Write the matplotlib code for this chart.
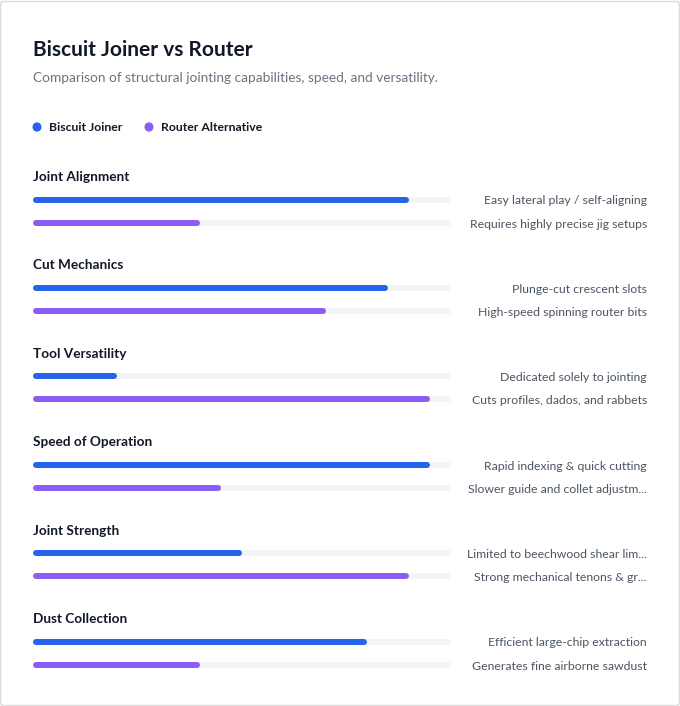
import matplotlib.pyplot as plt
from matplotlib.patches import FancyBboxPatch

plt.rcParams['font.family'] = ['Lato', 'DejaVu Sans']

title = "Biscuit Joiner vs Router"
subtitle = "Comparison of structural jointing capabilities, speed, and versatility."
series_names = ["Biscuit Joiner", "Router Alternative"]
series_colors = ["#2563eb", "#8b5cf6"]

categories = ["Joint Alignment", "Cut Mechanics", "Tool Versatility",
              "Speed of Operation", "Joint Strength", "Dust Collection"]
biscuit = [90, 85, 20, 95, 50, 80]
router = [40, 70, 95, 45, 90, 40]
biscuit_notes = ["Easy lateral play / self-aligning", "Plunge-cut crescent slots",
                 "Dedicated solely to jointing", "Rapid indexing & quick cutting",
                 "Limited to beechwood shear lim...", "Efficient large-chip extraction"]
router_notes = ["Requires highly precise jig setups", "High-speed spinning router bits",
                "Cuts profiles, dados, and rabbets", "Slower guide and collet adjustm...",
                "Strong mechanical tenons & gr...", "Generates fine airborne sawdust"]

W, H = 680, 706
fig = plt.figure(figsize=(W / 100, H / 100), dpi=100)
fig.patch.set_facecolor("white")


def fx(x):
    return x / W


def fy(y):
    return 1 - y / H


# card border
fig.patches.append(FancyBboxPatch((fx(0.5), fy(705.5)), fx(679), 704 / H,
                                  boxstyle="round,pad=0,rounding_size=0.004",
                                  transform=fig.transFigure, facecolor="none",
                                  edgecolor="#dcdcdc", linewidth=1, zorder=-1))

fig.text(fx(33), fy(49.5), title, fontsize=15, fontweight="bold", color="#111827", va="center")
fig.text(fx(33), fy(78), subtitle, fontsize=9.8, color="#6b7280", va="center")

# legend
leg_x = [37, 149]
for name, col, lx in zip(series_names, series_colors, leg_x):
    fig.patches.append(plt.Circle((fx(lx), fy(127)), 3.8 / W, color=col,
                                  transform=fig.transFigure))
    fig.text(fx(lx + 12), fy(127.5), name, fontsize=8.8, fontweight="bold",
             color="#111827", va="center")

# bars axes: spans the track horizontally, figure height vertically (px coords)
left, right = 33, 451
ax = fig.add_axes([fx(left), 0, (right - left) / W, 1])
ax.set_xlim(0, 100)
ax.set_ylim(H, 0)
ax.axis("off")

lw_px = 6
lw_pt = lw_px * 72 / 100
cap = (lw_px / 2) / (right - left) * 100

y0, step = 199.5, 88.4
for i, cat in enumerate(categories):
    yb = y0 + i * step
    yr = yb + 23
    fig.text(fx(33), fy(yb - 22.5), cat, fontsize=9.8, fontweight="bold",
             color="#111827", va="center")
    for yy, val, col, note in [(yb, biscuit[i], series_colors[0], biscuit_notes[i]),
                               (yr, router[i], series_colors[1], router_notes[i])]:
        ax.plot([cap, 100 - cap], [yy, yy], color="#f3f4f6", lw=lw_pt,
                solid_capstyle="round")
        ax.plot([cap, val - cap], [yy, yy], color=col, lw=lw_pt,
                solid_capstyle="round")
        fig.text(fx(647), fy(yy + 1.5), note, fontsize=8.8, color="#4b5563",
                 ha="right", va="center")

fig.savefig("out.png", dpi=100, facecolor="white")
